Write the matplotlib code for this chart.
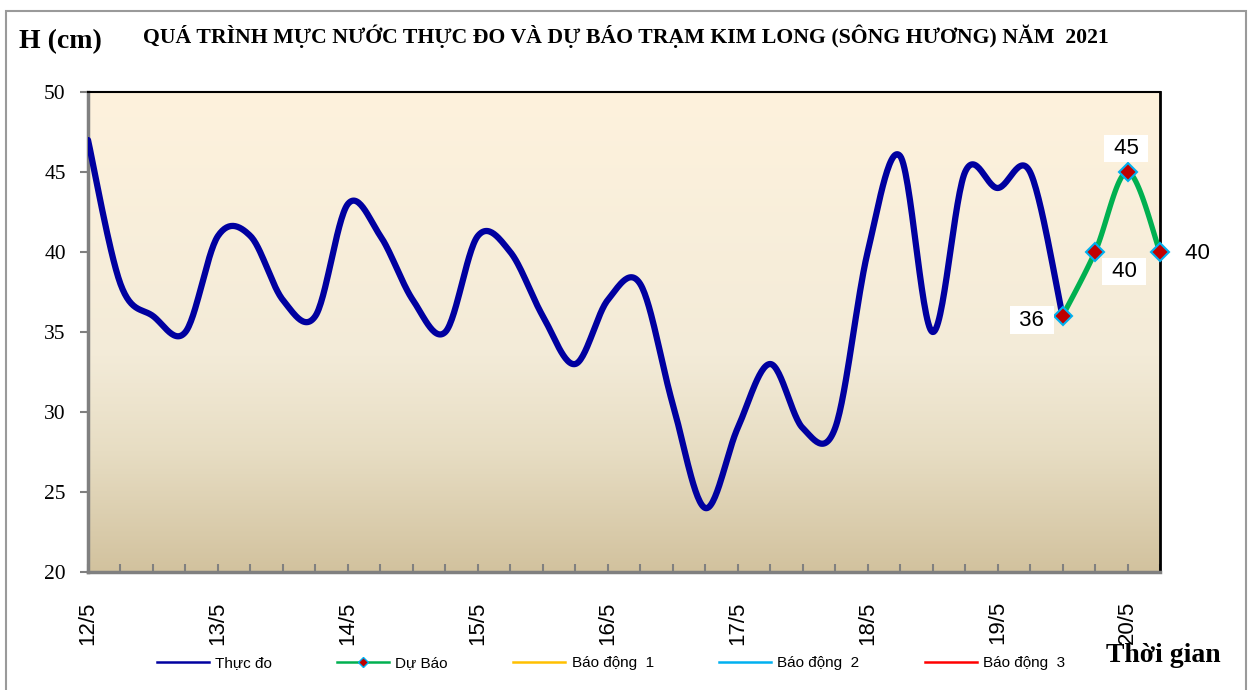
import numpy as np
import matplotlib
matplotlib.use('Agg')
import matplotlib.pyplot as plt
from matplotlib.lines import Line2D
from matplotlib.patches import Rectangle
from matplotlib.colors import LinearSegmentedColormap

W, H = 1253, 690

# ---------------- data ----------------
day_labels = ['12/5', '13/5', '14/5', '15/5', '16/5', '17/5', '18/5', '19/5', '20/5']
steps_per_day = 4          # one value every 6 hours
n_steps = 33               # 12/5 00h -> 20/5 06h

thuc_do = [47, 38, 36, 35, 41, 41, 37, 36,
           43, 41, 37, 35, 41, 40, 36, 33,
           37, 38, 30.5, 24, 29, 33, 29, 29,
           40, 46, 35, 45, 44, 45, 36]
du_bao = [36, 40, 45, 40]
du_bao_start = 30

y_ticks = [20, 25, 30, 35, 40, 45, 50]
legend_labels = ['Thực đo', 'Dự Báo', 'Báo động  1', 'Báo động  2', 'Báo động  3']
title = 'QUÁ TRÌNH MỰC NƯỚC THỰC ĐO VÀ DỰ BÁO TRẠM KIM LONG (SÔNG HƯƠNG) NĂM  2021'

SERIF = ['Liberation Serif', 'DejaVu Serif']
SANS = ['Liberation Sans', 'DejaVu Sans']


def smooth(xs, ys, n=30):
    """Excel-like smoothed line: cubic Bezier through every point."""
    P = np.column_stack([np.asarray(xs, float), np.asarray(ys, float)])
    Pe = np.vstack([P[0], P, P[-1]])
    segs = []
    for i in range(len(P) - 1):
        p0, p1 = P[i], P[i + 1]
        c1 = p0 + (Pe[i + 2] - Pe[i]) / 6.0
        c2 = p1 - (Pe[i + 3] - Pe[i + 1]) / 6.0
        t = np.linspace(0, 1, n, endpoint=(i == len(P) - 2))[:, None]
        segs.append((1 - t) ** 3 * p0 + 3 * (1 - t) ** 2 * t * c1
                    + 3 * (1 - t) * t ** 2 * c2 + t ** 3 * p1)
    s = np.vstack(segs)
    return s[:, 0], s[:, 1]


fig = plt.figure(figsize=(W / 100, H / 100), dpi=100)
fig.patch.set_facecolor('white')

# outer chart border
fig.add_artist(Rectangle((6 / W, 0 - 0.01), (1246 - 6) / W, (1 - 11 / H) + 0.01,
                         transform=fig.transFigure, fill=False,
                         ec='#9A9A9A', lw=1.5))

ax = fig.add_axes([88 / W, 1 - 572 / H, (1160 - 88) / W, (572 - 92) / H])

# gradient plot-area background
cmap = LinearSegmentedColormap.from_list(
    'bg', [(0, '#FEF2DD'), (0.55, '#F3EBD8'), (0.75, '#E7DDC3'), (1, '#D2C29E')])
grad = np.linspace(0, 1, 256)[:, None]
ax.imshow(grad, cmap=cmap, aspect='auto', extent=(0, n_steps, 20, 50),
          zorder=0, interpolation='bilinear')

# measured series
xs = np.arange(len(thuc_do))
sx, sy = smooth(xs, thuc_do)
ax.plot(sx, sy, color='#0000A0', lw=4.5, solid_capstyle='round',
        solid_joinstyle='round', zorder=3)

# forecast series
fx = np.arange(du_bao_start, du_bao_start + len(du_bao))
gx, gy = smooth(fx, du_bao)
ax.plot(gx, gy, color='#00B050', lw=3.8, zorder=4, clip_on=False,
        solid_capstyle='round')
ax.plot(fx, du_bao, ls='none', marker='D', ms=9.5, mfc='#C00000',
        mec='#00B0F0', mew=1.5, zorder=5, clip_on=False)

label_offsets = [(-22, -3), (21, -14), (-1, 17), (27, -1)]
for x, v, off in zip(fx, du_bao, label_offsets):
    ax.annotate(f' {v:g} ', (x, v), xytext=off, textcoords='offset points',
                ha='center', va='center', fontsize=16, family=SANS,
                color='black', zorder=6, annotation_clip=False,
                bbox=dict(boxstyle='square,pad=0.15', fc='white', ec='none'))

ax.set_xlim(0, n_steps)
ax.set_ylim(20, 50)

xt = np.arange(0, n_steps + 1)
ax.set_xticks(xt)
ax.set_xticklabels([day_labels[i // steps_per_day] if i % steps_per_day == 0
                    and i // steps_per_day < len(day_labels) else '' for i in xt],
                   rotation=90, fontsize=16, family=SANS)
ax.tick_params(axis='x', direction='in', length=6, width=1.5,
               color='#808080', pad=21)
ax.set_yticks(y_ticks)
ax.set_yticklabels([str(v) for v in y_ticks], fontsize=15.5, family=SERIF)
ax.tick_params(axis='y', direction='out', length=6, width=1.5,
               color='#808080', pad=10)

for side, c, lw in [('top', 'black', 1.5), ('right', 'black', 2.0),
                    ('left', '#808080', 2.5), ('bottom', '#808080', 2.5)]:
    ax.spines[side].set_color(c)
    ax.spines[side].set_linewidth(lw)

# texts
fig.text(626 / W, 1 - 36 / H, title, ha='center', va='center',
         fontsize=15.7, fontweight='bold', family=SERIF)
fig.text(60 / W, 1 - 42 / H, 'H (cm)', ha='center', va='center',
         fontsize=20, fontweight='bold', family=SERIF)
fig.text(1163 / W, 1 - 655 / H, 'Thời gian', ha='center', va='center',
         fontsize=20, fontweight='bold', family=SERIF)

handles = [Line2D([], [], color='#0000A0', lw=1.8),
           Line2D([], [], color='#00B050', lw=1.8, marker='D', ms=5,
                  mfc='#C00000', mec='#00B0F0', mew=1),
           Line2D([], [], color='#FFC000', lw=1.8),
           Line2D([], [], color='#00B0F0', lw=1.8),
           Line2D([], [], color='#FF0000', lw=1.8)]
fig.legend(handles, legend_labels, loc='center',
           bbox_to_anchor=(611 / W, 1 - 663 / H), ncol=5, frameon=False,
           prop={'family': SANS, 'size': 11}, handlelength=3.4,
           handletextpad=0.4, columnspacing=4.3)

fig.savefig('out.png', dpi=100, facecolor='white')
